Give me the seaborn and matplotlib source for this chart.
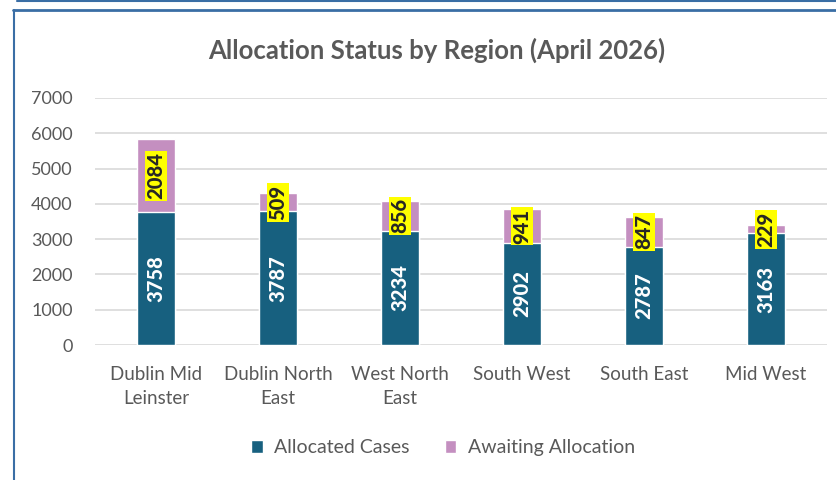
import matplotlib
matplotlib.use('Agg')
import matplotlib.pyplot as plt
import seaborn as sns
import pandas as pd
from matplotlib.patches import Patch
from matplotlib.lines import Line2D

regions = ['Dublin Mid\nLeinster', 'Dublin North\nEast', 'West North\nEast',
           'South West', 'South East', 'Mid West']
allocated = [3758, 3787, 3234, 2902, 2787, 3163]
awaiting = [2084, 509, 856, 941, 847, 229]

blue = '#17607f'
pink = '#c48fc0'
grey = '#595959'

sns.set_theme(style='white')
plt.rcParams['font.family'] = ['Lato', 'DejaVu Sans']

df = pd.DataFrame({'region': regions, 'allocated': allocated, 'awaiting': awaiting})
df['total'] = df['allocated'] + df['awaiting']

fig = plt.figure(figsize=(8.36, 4.8), dpi=100)
ax = fig.add_axes([0.1136, 0.281, 0.8754, 0.515])

sns.barplot(data=df, x='region', y='total', color=pink, width=0.31, saturation=1, ax=ax)
sns.barplot(data=df, x='region', y='allocated', color=blue, width=0.31, saturation=1, ax=ax)

ax.set_ylim(0, 7000)
ax.set_yticks(range(0, 7001, 1000))
ax.yaxis.grid(True, color='#d9d9d9', linewidth=1.2)
ax.set_axisbelow(True)
for s in ax.spines.values():
    s.set_visible(False)
ax.tick_params(axis='y', length=0, labelsize=13, labelcolor=grey, pad=16)
ax.tick_params(axis='x', length=0, labelsize=13.5, labelcolor=grey, pad=15)
for lbl in ax.get_xticklabels():
    lbl.set_linespacing(1.5)
ax.set_xlabel('')
ax.set_ylabel('')
ax.set_xlim(-0.5, len(regions) - 0.5)

# data labels
for i in range(len(regions)):
    ax.text(i, allocated[i] / 2, str(allocated[i]), rotation=90, ha='center', va='center',
            color='white', fontsize=14.5, fontweight='black')
    ax.text(i, allocated[i] + awaiting[i] / 2, str(awaiting[i]), rotation=90, ha='center',
            va='center', color='#262626', fontsize=14.5, fontweight='black',
            bbox=dict(boxstyle='square,pad=0.08', facecolor='#ffff00', edgecolor='none'))

fig.text(0.522, 0.896, 'Allocation Status by Region (April 2026)', ha='center', va='center',
         fontsize=18.5, fontweight='bold', color=grey)

handles = [Patch(facecolor=blue, label='Allocated Cases'),
           Patch(facecolor=pink, label='Awaiting Allocation')]
fig.legend(handles=handles, loc='center', bbox_to_anchor=(0.53, 0.067), ncol=2, frameon=False,
           fontsize=14, labelcolor=grey, handlelength=0.6, handleheight=0.6,
           handletextpad=0.6, columnspacing=1.8)

# frame lines
frame = '#3a6ea5'
fig.add_artist(Line2D([17 / 836, 1], [1 - 1 / 480, 1 - 1 / 480], color=frame, lw=1.5))
fig.add_artist(Line2D([13 / 836, 1], [1 - 10 / 480, 1 - 10 / 480], color=frame, lw=2))
fig.add_artist(Line2D([14 / 836, 14 / 836], [0, 1 - 10 / 480], color=frame, lw=1.5))

fig.savefig('out.png', dpi=100)
